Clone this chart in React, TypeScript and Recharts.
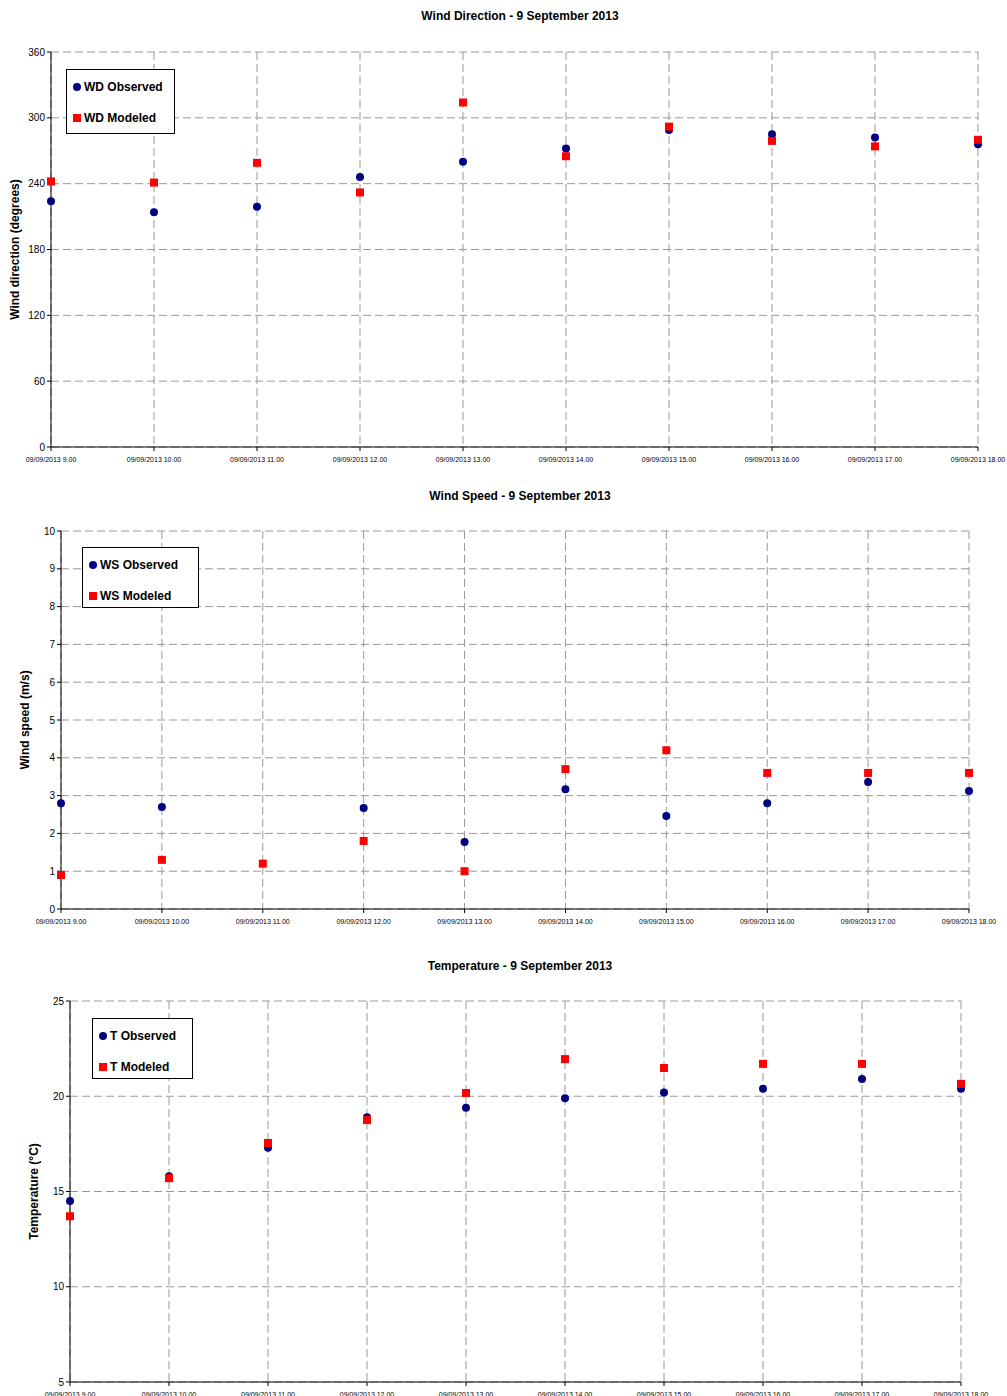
import React from 'react'
import { ScatterChart, Scatter, XAxis, YAxis, CartesianGrid } from 'recharts'

const HOURS = ['9.00', '10.00', '11.00', '12.00', '13.00', '14.00', '15.00', '16.00', '17.00', '18.00']
const TICK_LABELS = HOURS.map((h) => `09/09/2013 ${h}`)

const WD_OBSERVED = [224, 214, 219, 246, 260, 272, 289, 285, 282, 276]
const WD_MODELED = [242, 241, 259, 232, 314, 265, 292, 279, 274, 280]
const WS_OBSERVED: (number | null)[] = [2.8, 2.7, null, 2.67, 1.77, 3.17, 2.46, 2.8, 3.36, 3.12]
const WS_MODELED = [0.9, 1.3, 1.2, 1.8, 1.0, 3.7, 4.2, 3.6, 3.6, 3.6]
const T_OBSERVED = [14.5, 15.8, 17.3, 18.9, 19.4, 19.9, 20.2, 20.4, 20.9, 20.4]
const T_MODELED = [13.7, 15.7, 17.55, 18.75, 20.17, 21.95, 21.48, 21.7, 21.7, 20.65]

const toPoints = (vals: (number | null)[]) =>
  vals.map((v, i) => ({ x: i, y: v })).filter((p) => p.y !== null)

const Dot = (p: any) => <circle cx={p.cx} cy={p.cy} r={4} fill="#000080" />
const Square = (p: any) => <rect x={p.cx - 4} y={p.cy - 4} width={8} height={8} fill="#FF0000" />

const FONT = 'Arial, "Liberation Sans", sans-serif'

interface PanelProps {
  top: number
  title: string
  yLabel: string
  domain: [number, number]
  ticks: number[]
  observed: (number | null)[]
  modeled: (number | null)[]
  names: [string, string]
  plot: { left: number; right: number; top: number; bottom: number }
  legend: { left: number; top: number; width: number; height: number }
}

function Panel({ top, title, yLabel, domain, ticks, observed, modeled, names, plot, legend }: PanelProps) {
  const height = plot.bottom + 22
  const row = (i: number): React.CSSProperties => ({
    position: 'absolute', left: 6, top: i === 0 ? 10 : 41, display: 'flex', alignItems: 'center', height: 14,
  })
  return (
    <div style={{ position: 'absolute', top, left: 0, width: 1007, height }}>
      <div style={{ position: 'absolute', top: 9, left: 0, width: 1040, textAlign: 'center', fontFamily: FONT, fontWeight: 'bold', fontSize: 12 }}>
        {title}
      </div>
      <ScatterChart width={1007} height={height} margin={{ top: plot.top, left: 0, right: 1007 - plot.right, bottom: 0 }}>
        <CartesianGrid stroke="#999" strokeDasharray="8 4" />
        <XAxis type="number" dataKey="x" domain={[0, 9]} ticks={[0, 1, 2, 3, 4, 5, 6, 7, 8, 9]}
          tickFormatter={(v) => TICK_LABELS[v]} height={22} stroke="#000" tickSize={4}
          tick={{ fontSize: 7, fill: '#000', fontFamily: FONT, dy: 4 }} interval={0} />
        <XAxis xAxisId="top" orientation="top" type="number" domain={[0, 9]} tick={false} tickLine={false} stroke="#999" height={0} />
        <YAxis type="number" dataKey="y" domain={domain} ticks={ticks} width={plot.left} stroke="#000" tickSize={4}
          tick={{ fontSize: 10, fill: '#000', fontFamily: FONT }}
          label={{ value: yLabel, angle: -90, position: 'insideLeft', offset: plot.left - 36, style: { fontSize: 12, fontWeight: 'bold', fill: '#000', fontFamily: FONT, textAnchor: 'middle' } }} />
        <YAxis yAxisId="right" orientation="right" type="number" domain={domain} tick={false} tickLine={false} stroke="#999" width={0} />
        <Scatter data={toPoints(observed)} shape={Dot} isAnimationActive={false} />
        <Scatter data={toPoints(modeled)} shape={Square} isAnimationActive={false} />
      </ScatterChart>
      <div style={{ position: 'absolute', left: legend.left, top: legend.top, width: legend.width, height: legend.height, border: '1px solid #000', background: '#fff', boxSizing: 'border-box', fontFamily: FONT, fontWeight: 'bold', fontSize: 12 }}>
        <div style={row(0)}>
          <span style={{ width: 8, height: 8, borderRadius: 4, background: '#000080', marginRight: 3 }} />{names[0]}
        </div>
        <div style={row(1)}>
          <span style={{ width: 8, height: 8, background: '#FF0000', marginRight: 3 }} />{names[1]}
        </div>
      </div>
    </div>
  )
}

export default function App() {
  return (
    <div style={{ position: 'absolute', top: 0, left: 0, width: 1007, height: 1396, background: '#fff' }}>
      <Panel top={0} title="Wind Direction - 9 September 2013" yLabel="Wind direction (degrees)"
        domain={[0, 360]} ticks={[0, 60, 120, 180, 240, 300, 360]} observed={WD_OBSERVED} modeled={WD_MODELED}
        names={['WD Observed', 'WD Modeled']} plot={{ left: 51, right: 978, top: 52, bottom: 447 }}
        legend={{ left: 66, top: 69, width: 109, height: 65 }} />
      <Panel top={480} title="Wind Speed - 9 September 2013" yLabel="Wind speed (m/s)"
        domain={[0, 10]} ticks={[0, 1, 2, 3, 4, 5, 6, 7, 8, 9, 10]} observed={WS_OBSERVED} modeled={WS_MODELED}
        names={['WS Observed', 'WS Modeled']} plot={{ left: 61, right: 969, top: 51, bottom: 429 }}
        legend={{ left: 82, top: 67, width: 117, height: 61 }} />
      <Panel top={950} title="Temperature - 9 September 2013" yLabel="Temperature (°C)"
        domain={[5, 25]} ticks={[5, 10, 15, 20, 25]} observed={T_OBSERVED} modeled={T_MODELED}
        names={['T Observed', 'T Modeled']} plot={{ left: 70, right: 961, top: 51, bottom: 432 }}
        legend={{ left: 92, top: 68, width: 101, height: 61 }} />
    </div>
  )
}
